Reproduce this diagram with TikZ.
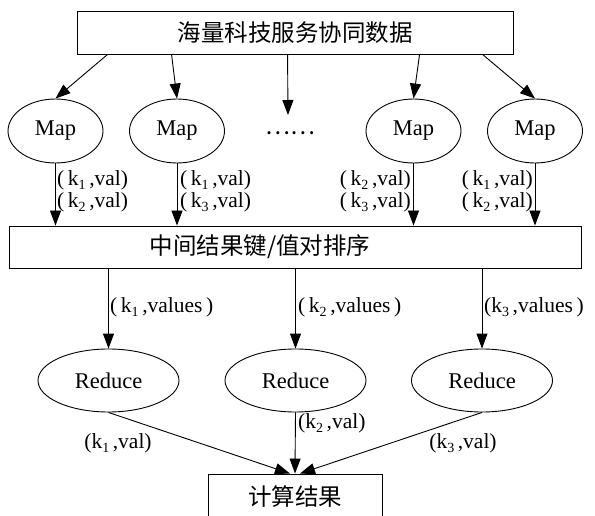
\documentclass[tikz,border=0pt]{standalone}
\usepackage{fontspec}
\setmainfont{Liberation Serif}
\newfontfamily\cjk{Noto Sans CJK SC}
\usetikzlibrary{arrows.meta,shapes.geometric,calc}
\newcommand\kk[1]{k\raisebox{-0.45ex}{\fontsize{14}{14}\selectfont #1}}
\begin{document}
\begin{tikzpicture}[x=1pt,y=-1pt,
  box/.style={draw,line width=0.9pt,inner sep=0},
  ell/.style={draw,ellipse,line width=0.9pt,inner sep=0,font=\fontsize{22.5}{24}\selectfont},
  arr/.style={line width=0.9pt,-{Triangle[length=15pt,width=11pt]}},
  lab/.style={font=\fontsize{21.5}{22}\selectfont,inner sep=0,align=left},
  cj/.style={font=\cjk\fontsize{23.5}{26}\selectfont,inner sep=0}]
\useasboundingbox (0,0) rectangle (595,516);
% boxes
\node[box,cj,minimum width=436pt,minimum height=43pt] (top) at (295,32.5) {海量科技服务协同数据};
\node[box,minimum width=572pt,minimum height=42pt] (mid) at (295,247) {};
\node[cj] (midtxt) at (260,247) {中间结果键/值对排序};
\node[box,minimum width=174pt,minimum height=56pt] (res) at (295,502) {};
\node[cj] (restxt) at (295,497) {计算结果};
% map ellipses
\node[ell,minimum width=95pt,minimum height=64pt] (m1) at (55.5,131) {Map};
\node[ell,minimum width=95pt,minimum height=64pt] (m2) at (177,131) {Map};
\node[ell,minimum width=95pt,minimum height=64pt] (m3) at (413.5,131) {Map};
\node[ell,minimum width=95pt,minimum height=64pt] (m4) at (535,131) {Map};
\node[cj] (dots) at (290,133) {……};
\coordinate (dtip) at (288,115);
% reduce ellipses
\node[ell,minimum width=141pt,minimum height=63pt] (r1) at (108.5,380.5) {Reduce};
\node[ell,minimum width=141pt,minimum height=63pt] (r2) at (295.5,380.5) {Reduce};
\node[ell,minimum width=141pt,minimum height=63pt] (r3) at (482,380.5) {Reduce};
% top arrows
\draw[arr] ([xshift=31pt]top.south west) -- (m1.north);
\draw[arr] ([xshift=95pt]top.south west) -- (m2.north);
\draw[arr] ([xshift=211pt]top.south west) -- (dtip);
\draw[arr] ([xshift=343pt]top.south west) -- (m3.north);
\draw[arr] ([xshift=406pt]top.south west) -- (m4.north);
% map to mid
\draw[arr] (m1.south) -- (m1.south |- mid.north);
\draw[arr] (m2.south) -- (m2.south |- mid.north);
\draw[arr] (m3.south) -- (m3.south |- mid.north);
\draw[arr] (m4.south) -- (m4.south |- mid.north);
\node[lab,anchor=west] (l1) at (57,191) {(\,\kk{1}\,,val)\\(\,\kk{2}\,,val)};
\node[lab,anchor=west] (l2) at (180,191) {(\,\kk{1}\,,val)\\(\,\kk{3}\,,val)};
\node[lab,anchor=east] (l3) at (411,191) {(\,\kk{2}\,,val)\\(\,\kk{3}\,,val)};
\node[lab,anchor=east] (l4) at (533,191) {(\,\kk{1}\,,val)\\(\,\kk{2}\,,val)};
% mid to reduce
\draw[arr] (r1.north |- mid.south) -- (r1.north);
\draw[arr] (r2.north |- mid.south) -- (r2.north);
\draw[arr] (r3.north |- mid.south) -- (r3.north);
\node[lab,anchor=west] (v1) at (110,307) {(\,\kk{1}\,,values\,)};
\node[lab,anchor=west] (v2) at (298,307) {(\,\kk{2}\,,values\,)};
\node[lab,anchor=west] (v3) at (484,307) {(\kk{3}\,,values\,)};
% reduce to result
\draw[arr] (r1.south) -- ([xshift=-5pt]res.north);
\draw[arr] (r2.south) -- (res.north);
\draw[arr] (r3.south) -- ([xshift=5pt]res.north);
\node[lab] (o1) at (118,443) {(\kk{1}\,,val)};
\node[lab,anchor=west] (o2) at (298,423) {(\kk{2}\,,val)};
\node[lab] (o3) at (463,443) {(\kk{3}\,,val)};
\end{tikzpicture}
\end{document}
